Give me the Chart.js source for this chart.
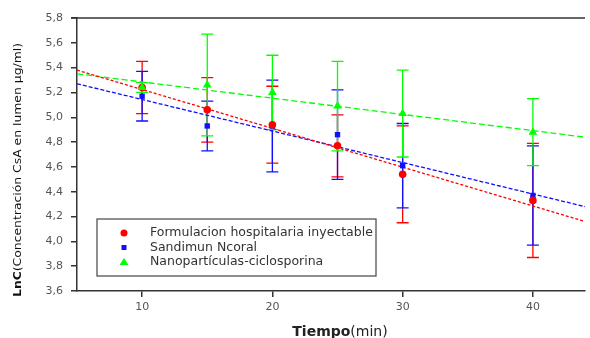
<!DOCTYPE html>
<html lang="es">
<head>
    <meta charset="UTF-8">
    <script src="https://cdn.jsdelivr.net/npm/chart.js"></script>
    <title>LnC vs Tiempo</title>
    <style>
        body {
            margin: 0;
            padding: 0;
            background-color: white;
        }

        .container {
            width: 590px;
            height: 338px;
        }
    </style>
</head>
<body>

    <div class="container">
        <canvas id="myChart"></canvas>
    </div>

    <script>
        // data
        const tiempo = [10, 15, 20, 25, 30, 40];

        const formulacion = [5.24, 5.06, 4.94, 4.77, 4.54, 4.33];
        const formulacionErr = [0.21, 0.26, 0.31, 0.25, 0.39, 0.46];

        const sandimun = [5.17, 4.93, 4.93, 4.86, 4.61, 4.37];
        const sandimunErr = [0.20, 0.20, 0.37, 0.36, 0.34, 0.40];

        const nano = [5.24, 5.26, 5.20, 5.09, 5.03, 4.88];
        const nanoErr = [0.04, 0.41, 0.30, 0.36, 0.35, 0.27];

        // regression lines (ends of the fitted lines)
        const trendX = [5, 44];
        const formulacionTrend = [5.38, 4.16];
        const sandimunTrend = [5.27, 4.28];
        const nanoTrend = [5.35, 4.84];

        const xTickLabels = [10, 20, 30, 40];

        const labels = ['Formulacion hospitalaria inyectable', 'Sandimun Ncoral', 'Nanopartículas-ciclosporina'];
        const colors = ['#ff0000', '#1010ff', '#00ff00'];
        const pointStyles = ['circle', 'rect', 'triangle'];

        const toXY = (xs, ys) => xs.map((x, i) => ({ x: x, y: ys[i] }));

        const errorBars = {
            id: 'errorBars',
            beforeDatasetsDraw(chart) {
                const ctx = chart.ctx;
                const xs = chart.scales.x;
                const ys = chart.scales.y;
                const series = [
                    [formulacion, formulacionErr, colors[0]],
                    [sandimun, sandimunErr, colors[1]],
                    [nano, nanoErr, colors[2]]
                ];
                ctx.save();
                ctx.lineWidth = 1.3;
                series.forEach(s => {
                    ctx.strokeStyle = s[2];
                    tiempo.forEach((t, i) => {
                        const px = xs.getPixelForValue(t);
                        const top = ys.getPixelForValue(s[0][i] + s[1][i]);
                        const bot = ys.getPixelForValue(s[0][i] - s[1][i]);
                        ctx.beginPath();
                        ctx.moveTo(px, top);
                        ctx.lineTo(px, bot);
                        ctx.moveTo(px - 6, top);
                        ctx.lineTo(px + 6, top);
                        ctx.moveTo(px - 6, bot);
                        ctx.lineTo(px + 6, bot);
                        ctx.stroke();
                    });
                });
                ctx.restore();
            }
        };

        const decorations = {
            id: 'decorations',
            afterDraw(chart) {
                const ctx = chart.ctx;
                const area = chart.chartArea;
                ctx.save();

                // top frame line
                ctx.strokeStyle = '#333';
                ctx.lineWidth = 1.5;
                ctx.beginPath();
                ctx.moveTo(area.left - 6, area.top);
                ctx.lineTo(area.right, area.top);
                ctx.stroke();

                // legend box
                const bx = 97, by = 219, bw = 279, bh = 57;
                ctx.fillStyle = 'white';
                ctx.fillRect(bx, by, bw, bh);
                ctx.strokeStyle = '#444';
                ctx.lineWidth = 1.2;
                ctx.strokeRect(bx, by, bw, bh);
                ctx.font = '12.5px "DejaVu Sans"';
                ctx.textBaseline = 'middle';
                labels.forEach((lab, i) => {
                    const ly = 233 + i * 14.5;
                    ctx.fillStyle = colors[i];
                    ctx.beginPath();
                    if (pointStyles[i] === 'circle') {
                        ctx.arc(124, ly, 3.5, 0, Math.PI * 2);
                    } else if (pointStyles[i] === 'rect') {
                        ctx.rect(121.5, ly - 2.5, 5, 5);
                    } else {
                        ctx.moveTo(124, ly - 4);
                        ctx.lineTo(128.5, ly + 3);
                        ctx.lineTo(119.5, ly + 3);
                        ctx.closePath();
                    }
                    ctx.fill();
                    ctx.fillStyle = '#333';
                    ctx.fillText(lab, 150, ly);
                });

                // x axis title
                ctx.fillStyle = '#222';
                ctx.textBaseline = 'alphabetic';
                ctx.font = 'bold 14px "DejaVu Sans"';
                const t1 = 'Tiempo';
                const w1 = ctx.measureText(t1).width;
                ctx.font = '14px "DejaVu Sans"';
                const t2 = '(min)';
                const w2 = ctx.measureText(t2).width;
                const sx = 340 - (w1 + w2) / 2;
                ctx.font = 'bold 14px "DejaVu Sans"';
                ctx.fillText(t1, sx, 336);
                ctx.font = '14px "DejaVu Sans"';
                ctx.fillText(t2, sx + w1, 336);

                // y axis title, squeezed to the axis height
                ctx.translate(21, 170);
                ctx.rotate(-Math.PI / 2);
                const y1 = 'LnC';
                const y2 = '(Concentración CsA en lumen µg/ml)';
                ctx.font = 'bold 11px "DejaVu Sans"';
                const a = ctx.measureText(y1).width;
                ctx.font = '11px "DejaVu Sans"';
                const b = ctx.measureText(y2).width;
                const k = 254 / (a + b);
                ctx.scale(k, 1);
                ctx.textAlign = 'left';
                ctx.fillStyle = '#111';
                ctx.font = 'bold 11px "DejaVu Sans"';
                ctx.fillText(y1, -(a + b) / 2, 0);
                ctx.font = '11px "DejaVu Sans"';
                ctx.fillText(y2, -(a + b) / 2 + a, 0);
                ctx.restore();
            }
        };

        const pointSet = (i, data) => ({
            label: labels[i],
            data: toXY(tiempo, data),
            showLine: false,
            pointStyle: pointStyles[i],
            pointRadius: i === 2 ? 5 : 3.8,
            backgroundColor: colors[i],
            borderColor: colors[i],
            borderWidth: 0,
            order: 0
        });

        const lineSet = (i, data, dash) => ({
            label: labels[i] + ' (ajuste)',
            data: toXY(trendX, data),
            showLine: true,
            pointRadius: 0,
            borderColor: colors[i],
            borderWidth: 1.3,
            borderDash: dash,
            order: 1
        });

        const chartConfig = {
            type: 'scatter',
            data: {
                datasets: [
                    pointSet(2, nano),
                    pointSet(0, formulacion),
                    pointSet(1, sandimun),
                    lineSet(0, formulacionTrend, [3, 2]),
                    lineSet(1, sandimunTrend, [4, 2]),
                    lineSet(2, nanoTrend, [6, 3])
                ]
            },
            options: {
                responsive: true,
                maintainAspectRatio: false,
                animation: false,
                layout: { padding: { top: 18, right: 0, left: 0, bottom: 0 } },
                plugins: {
                    legend: { display: false },
                    tooltip: { enabled: false }
                },
                scales: {
                    x: {
                        type: 'linear',
                        min: 5,
                        max: 44,
                        afterBuildTicks: scale => {
                            scale.ticks = xTickLabels.map(v => ({ value: v }));
                        },
                        afterFit: scale => { scale.height = 47; },
                        grid: { drawOnChartArea: false, tickLength: 6, color: '#333', lineWidth: 1.5 },
                        border: { color: '#333', width: 1.5 },
                        ticks: {
                            padding: 4,
                            color: '#555',
                            font: { family: 'DejaVu Sans', size: 11 }
                        }
                    },
                    y: {
                        min: 3.6,
                        max: 5.8,
                        afterFit: scale => { scale.width = 77; },
                        grid: { drawOnChartArea: false, tickLength: 6, color: '#333', lineWidth: 1.5 },
                        border: { color: '#333', width: 1.5 },
                        ticks: {
                            stepSize: 0.2,
                            padding: 8,
                            color: '#555',
                            font: { family: 'DejaVu Sans', size: 11 },
                            callback: v => v.toFixed(1).replace('.', ',')
                        }
                    }
                }
            },
            plugins: [errorBars, decorations]
        };

        var myChart = new Chart(document.getElementById('myChart'), chartConfig);
    </script>

</body>
</html>
